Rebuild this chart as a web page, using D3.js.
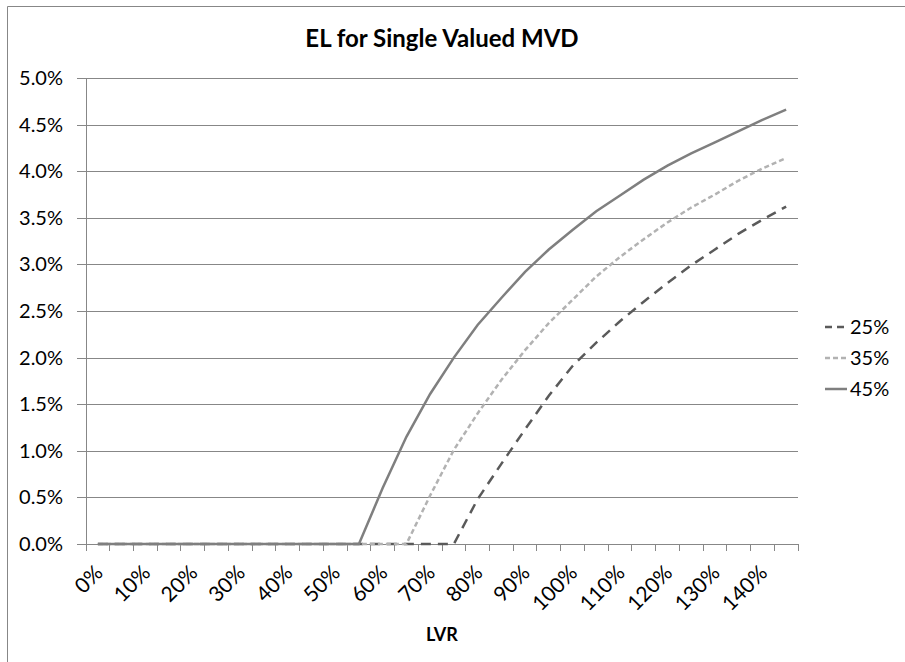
<!DOCTYPE html>
<html>
<head>
<meta charset="utf-8">
<script src="https://cdn.jsdelivr.net/npm/d3@7"></script>
<style>
  body { margin: 0; background: #fff; }
  svg text { font-family: Lato, "Open Sans", sans-serif; fill: #000; }
</style>
</head>
<body>
<svg id="chart" width="905" height="662"></svg>
<script>
// LVR categories, 0% .. 145% in 5% steps
var lvr = [0,5,10,15,20,25,30,35,40,45,50,55,60,65,70,75,80,85,90,95,100,105,110,115,120,125,130,135,140,145];
// EL (%) by LGD series
var el25 = [0,0,0,0,0,0,0,0,0,0,0,0,0,0,0,0,0.48,0.86,1.23,1.59,1.91,2.16,2.39,2.60,2.80,2.99,3.16,3.33,3.48,3.62];
var el35 = [0,0,0,0,0,0,0,0,0,0,0,0,0,0,0.52,1.01,1.40,1.76,2.08,2.37,2.62,2.87,3.08,3.27,3.45,3.61,3.75,3.90,4.03,4.14];
var el45 = [0,0,0,0,0,0,0,0,0,0,0,0,0.60,1.15,1.61,2.00,2.35,2.64,2.92,3.16,3.37,3.57,3.74,3.91,4.06,4.19,4.31,4.43,4.55,4.66];
var yTicks = [0,0.5,1,1.5,2,2.5,3,3.5,4,4.5,5];
var seriesNames = ['25%','35%','45%'];

var svg = d3.select('#chart');
var pLeft = 86, pRight = 798, pTop = 78, pBottom = 544;
var grid = '#878787';

var x = d3.scaleBand().domain(lvr).range([pLeft, pRight]);
var y = d3.scaleLinear().domain([0, 5]).range([pBottom, pTop]);

// chart area border (only left + top visible in crop)
svg.append('path')
  .attr('d', 'M7.5,662V6.5H905')
  .attr('fill', 'none')
  .attr('stroke', grid);

// title
svg.append('text')
  .attr('x', 442).attr('y', 47)
  .attr('text-anchor', 'middle')
  .style('font-weight', 'bold').style('font-size', '24px')
  .text('EL for Single Valued MVD');

// y gridlines + labels
var yAxis = svg.append('g')
  .attr('transform', 'translate(' + pRight + ',0)')
  .call(d3.axisLeft(y).tickValues(yTicks).tickSize(pRight - 77).tickPadding(14)
    .tickFormat(function(d) { return d.toFixed(1) + '%'; }));
yAxis.select('.domain').remove();
yAxis.selectAll('line').attr('stroke', grid).attr('shape-rendering', 'crispEdges');
yAxis.selectAll('text').style('font-size', '20px').attr('fill', '#000');

// vertical axis line
svg.append('line')
  .attr('x1', pLeft).attr('x2', pLeft).attr('y1', pTop).attr('y2', pBottom)
  .attr('stroke', grid).attr('shape-rendering', 'crispEdges');

// x axis: line, boundary ticks
svg.append('line')
  .attr('x1', pLeft).attr('x2', pRight).attr('y1', pBottom).attr('y2', pBottom)
  .attr('stroke', grid).attr('shape-rendering', 'crispEdges');
var bounds = lvr.map(function(d) { return x(d); }).concat([pRight]);
svg.selectAll('.xtick').data(bounds).enter().append('line')
  .attr('class', 'xtick')
  .attr('x1', function(d) { return d; }).attr('x2', function(d) { return d; })
  .attr('y1', pBottom).attr('y2', pBottom + 7)
  .attr('stroke', grid).attr('shape-rendering', 'crispEdges');

// x labels every 10%
var xAxis = svg.append('g')
  .attr('transform', 'translate(0,' + pBottom + ')')
  .call(d3.axisBottom(x).tickValues(lvr.filter(function(d) { return d % 10 === 0; }))
    .tickSize(0).tickFormat(function(d) { return d + '%'; }));
xAxis.select('.domain').remove();
xAxis.selectAll('text')
  .style('font-size', '21px').attr('fill', '#000')
  .attr('text-anchor', 'end')
  .attr('y', 0).attr('dy', '0.35em')
  .attr('transform', 'translate(1,25) rotate(-45)');

// x axis title
svg.append('text')
  .attr('x', 442).attr('y', 641)
  .attr('text-anchor', 'middle')
  .style('font-weight', 'bold').style('font-size', '18px')
  .text('LVR');

// series
var styles = [
  { data: el25, color: '#5a5a5a', dash: '10,7', width: 2.5 },
  { data: el35, color: '#b2b2b2', dash: '5,3', width: 2.5 },
  { data: el45, color: '#7f7f7f', dash: null, width: 2.5 }
];
var line = d3.line()
  .x(function(d, i) { return x(lvr[i]) + x.bandwidth() / 2; })
  .y(function(d) { return y(d); });

styles.forEach(function(s) {
  svg.append('path')
    .datum(s.data)
    .attr('d', line)
    .attr('fill', 'none')
    .attr('stroke', s.color)
    .attr('stroke-width', s.width)
    .attr('stroke-dasharray', s.dash);
});

// legend
var lg = svg.append('g');
styles.forEach(function(s, i) {
  var ly = 327 + i * 31;
  lg.append('line')
    .attr('x1', 825).attr('x2', 847).attr('y1', ly).attr('y2', ly)
    .attr('stroke', s.color).attr('stroke-width', s.width)
    .attr('stroke-dasharray', i === 0 ? '7,5' : s.dash);
  lg.append('text')
    .attr('x', 850).attr('y', ly).attr('dy', '0.35em')
    .style('font-size', '20px')
    .text(seriesNames[i]);
});
</script>
</body>
</html>
